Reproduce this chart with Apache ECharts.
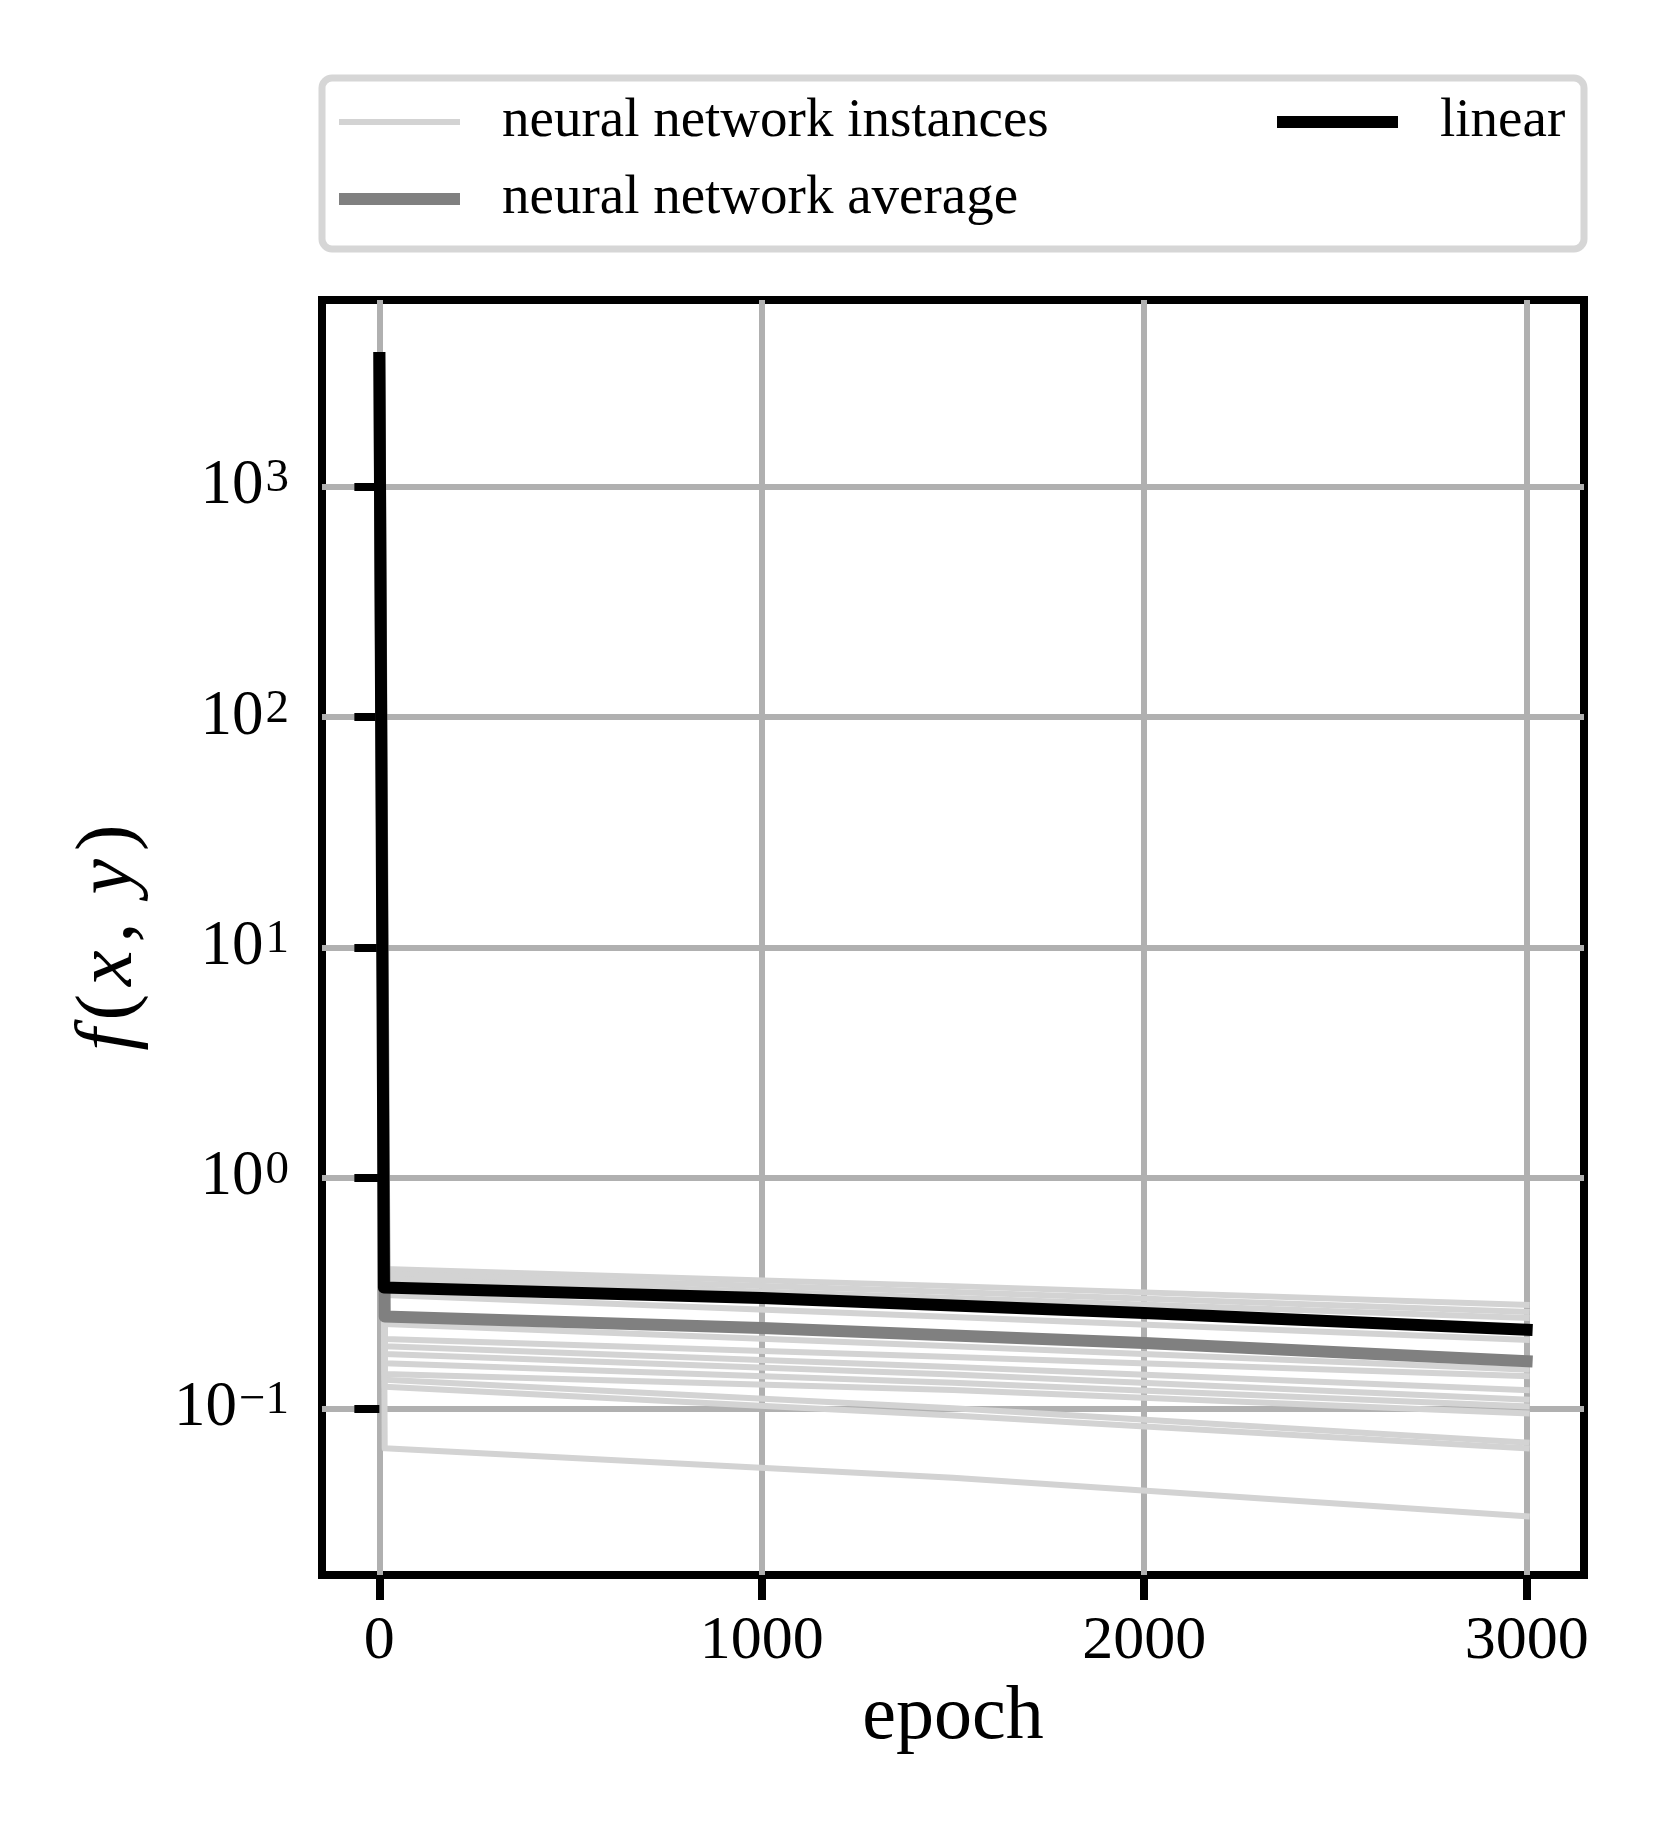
<!DOCTYPE html>
<html>
<head>
<meta charset="utf-8">
<title>f(x, y) per epoch</title>
<script src="https://cdn.jsdelivr.net/npm/echarts@6/dist/echarts.min.js"></script>
<style>
  html, body { margin: 0; padding: 0; background: #fff; }
  #main { width: 1661px; height: 1827px; }
</style>
</head>
<body>
<div id="main"></div>
<script>
// values (log y axis)
const linearEpochs = [0, 12, 1000, 2000, 3000];
const linearValues = [3616, 0.334, 0.301, 0.259, 0.219];

const averageEpochs = [0, 14, 1000, 2000, 3000];
const averageValues = [3616, 0.250, 0.223, 0.192, 0.160];

const instanceEpochs = [0, 14, 1500, 3000];
const instanceValues = [
  [3616, 0.402, 0.339, 0.281],
  [3616, 0.383, 0.320, 0.262],
  [3616, 0.364, 0.301, 0.247],
  [3616, 0.310, 0.249, 0.198],
  [3616, 0.232, 0.186, 0.147],
  [3616, 0.200, 0.167, 0.138],
  [3616, 0.186, 0.151, 0.120],
  [3616, 0.172, 0.140, 0.109],
  [3616, 0.157, 0.129, 0.102],
  [3616, 0.141, 0.120, 0.095],
  [3616, 0.133, 0.100, 0.071],
  [3616, 0.124, 0.093, 0.067],
  [3616, 0.067, 0.050, 0.034]
];

const xTicks = [0, 1000, 2000, 3000];
const yTicks = [0.1, 1, 10, 100, 1000];
const yTickExponents = ['\u22121', '0', '1', '2', '3'];

const xRange = [-150, 3150];
const yRange = [0.0189, 6457];

const FONT = '"Liberation Serif", "DejaVu Serif", serif';
const GRID_COLOR = '#b0b0b0';

const chart = echarts.init(document.getElementById('main'), null, { renderer: 'canvas' });

function lineSeries(name, epochs, values, color, width, z) {
  return {
    name: name,
    type: 'line',
    data: epochs.map((e, i) => [e, values[i]]),
    symbol: 'none',
    showSymbol: false,
    silent: true,
    z: z,
    itemStyle: { color: color },
    lineStyle: { color: color, width: width, cap: 'square', join: 'round' }
  };
}

const series = [];
instanceValues.forEach(vals => {
  series.push(lineSeries('neural network instances', instanceEpochs, vals, '#d3d3d3', 6, 2));
});
series.push(lineSeries('neural network average', averageEpochs, averageValues, '#808080', 12, 3));
series.push(lineSeries('linear', linearEpochs, linearValues, '#000000', 12, 4));

function legendAt(name, left, centerY, thickness) {
  return {
    data: [name],
    left: left,
    top: centerY - 34,
    padding: 0,
    icon: 'rect',
    itemWidth: 121,
    itemHeight: thickness,
    selectedMode: false,
    z: 10,
    textStyle: {
      fontFamily: FONT,
      fontSize: 55,
      lineHeight: 60,
      color: '#000',
      padding: [8, 0, 0, 37]
    }
  };
}

const option = {
  animation: false,
  backgroundColor: '#fff',
  grid: {
    left: 322,
    right: 77,
    top: 300,
    bottom: 252,
    show: true,
    borderColor: '#000',
    borderWidth: 8,
    backgroundColor: 'transparent',
    containLabel: false,
    outerBoundsMode: 'none'
  },
  legend: [
    legendAt('neural network instances', 339, 122, 6),
    legendAt('neural network average', 339, 199, 12),
    legendAt('linear', 1277, 122, 12)
  ],
  graphic: [{
    type: 'rect',
    z: 1,
    shape: { x: 322, y: 78, width: 1262, height: 171, r: 10 },
    style: { fill: '#fff', stroke: '#d6d6d6', lineWidth: 7 }
  }],
  xAxis: {
    type: 'value',
    min: xRange[0],
    max: xRange[1],
    name: 'epoch',
    nameLocation: 'middle',
    nameGap: 105,
    nameTextStyle: { fontFamily: FONT, fontSize: 76, color: '#000' },
    axisLine: { show: false },
    axisTick: {
      show: true, inside: false, length: 25, customValues: xTicks,
      lineStyle: { color: '#000', width: 8 }
    },
    axisLabel: {
      show: true, margin: 36, customValues: xTicks,
      fontFamily: FONT, fontSize: 62, color: '#000',
      formatter: v => String(v)
    },
    splitLine: { show: true, lineStyle: { color: GRID_COLOR, width: 6 } }
  },
  yAxis: {
    type: 'log',
    logBase: 10,
    min: yRange[0],
    max: yRange[1],
    name: '{i|f}{r|(}{i|x}{r|,}{i| y}{r|)}',
    nameLocation: 'middle',
    nameRotate: 90,
    nameGap: 172,
    nameTextStyle: {
      color: '#000',
      rich: {
        i: { fontFamily: FONT, fontSize: 80, fontStyle: 'italic', color: '#000', padding: [0, 4] },
        r: { fontFamily: FONT, fontSize: 80, color: '#000', padding: [0, 4] }
      }
    },
    axisLine: { show: false },
    axisTick: {
      show: true, inside: false, length: 25, customValues: yTicks,
      lineStyle: { color: '#000', width: 8 }
    },
    axisLabel: {
      show: true, margin: 33, customValues: yTicks,
      formatter: v => {
        let k = yTicks.findIndex(t => Math.abs(t - v) / t < 1e-6);
        if (k < 0) return '';
        return '{b|10}{e|' + yTickExponents[k] + '}';
      },
      rich: {
        b: { fontFamily: FONT, fontSize: 63, lineHeight: 62, color: '#000' },
        e: { fontFamily: FONT, fontSize: 47, lineHeight: 22, verticalAlign: 'top', color: '#000', padding: [0, 0, 0, 2] }
      }
    },
    splitLine: { show: true, lineStyle: { color: GRID_COLOR, width: 6 } }
  },
  series: series
};

chart.setOption(option);
</script>
</body>
</html>
